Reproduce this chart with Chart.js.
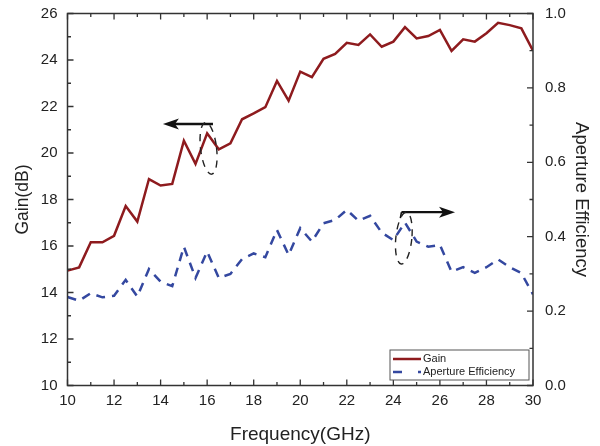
<!DOCTYPE html>
<html>
<head>
<meta charset="utf-8">
<script src="https://cdn.jsdelivr.net/npm/chart.js@4.4.1/dist/chart.umd.min.js"></script>
<style>
html,body{margin:0;padding:0;background:#fff;}
#wrap{width:600px;height:446px;position:relative;}
</style>
</head>
<body>
<div id="wrap"><canvas id="c" width="600" height="446"></canvas></div>
<script>
const frequency = [10,10.5,11,11.5,12,12.5,13,13.5,14,14.5,15,15.5,16,16.5,17,17.5,18,18.5,19,19.5,20,20.5,21,21.5,22,22.5,23,23.5,24,24.5,25,25.5,26,26.5,27,27.5,28,28.5,29,29.5,30];
const gain = [14.94,15.08,16.16,16.16,16.44,17.72,17.05,18.88,18.6,18.67,20.53,19.53,20.85,20.16,20.42,21.45,21.7,21.97,23.1,22.25,23.5,23.26,24.05,24.26,24.74,24.65,25.1,24.57,24.79,25.41,24.93,25.03,25.29,24.39,24.89,24.79,25.15,25.6,25.5,25.36,24.4];
const efficiency = [0.238,0.228,0.248,0.237,0.241,0.284,0.239,0.313,0.279,0.267,0.373,0.289,0.36,0.289,0.30,0.34,0.355,0.345,0.418,0.351,0.423,0.387,0.436,0.445,0.472,0.443,0.456,0.411,0.391,0.438,0.387,0.373,0.378,0.306,0.318,0.303,0.318,0.339,0.318,0.302,0.245];
const xTicks = [10,12,14,16,18,20,22,24,26,28,30];
const gainTicks = [10,12,14,16,18,20,22,24,26];
const effTicks = [0.0,0.2,0.4,0.6,0.8,1.0];
const seriesNames = ['Gain','Aperture Efficiency'];

const FONT = "'Liberation Sans', Arial, sans-serif";
const RED = '#8e1b1e';
const BLUE = '#3448a0';

function toPts(ys){ return frequency.map((f,i)=>({x:f,y:ys[i]})); }

const framePlugin = {
  id:'frame',
  afterDatasetsDraw(chart){
    const ctx = chart.ctx;
    const a = chart.chartArea;
    const xs = chart.scales.x, yl = chart.scales.y, yr = chart.scales.y2;
    ctx.save();
    ctx.strokeStyle = '#333';
    ctx.lineWidth = 1.5;
    ctx.strokeRect(a.left, a.top, a.right-a.left, a.bottom-a.top);
    ctx.lineWidth = 1.3;
    ctx.beginPath();
    for(let v=10; v<=30; v+=1){
      const px = xs.getPixelForValue(v);
      const len = (v%2===0)?6:3.5;
      ctx.moveTo(px, a.bottom); ctx.lineTo(px, a.bottom-len);
      ctx.moveTo(px, a.top); ctx.lineTo(px, a.top+len);
    }
    for(let v=10; v<=26; v+=1){
      const py = yl.getPixelForValue(v);
      const len = (v%2===0)?6:3.5;
      ctx.moveTo(a.left, py); ctx.lineTo(a.left+len, py);
    }
    for(let k=0; k<=10; k++){
      const py = yr.getPixelForValue(k/10);
      const len = (k%2===0)?6:3.5;
      ctx.moveTo(a.right, py); ctx.lineTo(a.right-len, py);
    }
    ctx.stroke();

    function arrow(x1,y1,x2,y2){
      ctx.strokeStyle='#111'; ctx.fillStyle='#111'; ctx.lineWidth=2.4; ctx.setLineDash([]);
      const dir = Math.sign(x2-x1);
      ctx.beginPath(); ctx.moveTo(x1,y1); ctx.lineTo(x2-dir*10,y2); ctx.stroke();
      ctx.beginPath(); ctx.moveTo(x2,y2); ctx.lineTo(x2-dir*16,y2-5.5); ctx.lineTo(x2-dir*12,y2); ctx.lineTo(x2-dir*16,y2+5.5); ctx.closePath(); ctx.fill();
    }
    function ell(cx,cy,rx,ry,rot){
      ctx.strokeStyle='#222'; ctx.lineWidth=1.4; ctx.setLineDash([7,6]);
      ctx.beginPath(); ctx.ellipse(cx,cy,rx,ry,rot,0,Math.PI*2); ctx.stroke();
      ctx.setLineDash([]);
    }
    const ay1 = yl.getPixelForValue(21.25);
    arrow(xs.getPixelForValue(16.25), ay1, xs.getPixelForValue(14.1), ay1);
    ell(xs.getPixelForValue(16.06), yl.getPixelForValue(20.2), 8, 26, -0.12);
    const ay2 = yr.getPixelForValue(0.466);
    arrow(xs.getPixelForValue(24.35), ay2, xs.getPixelForValue(26.65), ay2);
    ctx.strokeStyle='#111'; ctx.lineWidth=1.6; ctx.beginPath();
    ctx.moveTo(xs.getPixelForValue(24.35), ay2); ctx.lineTo(xs.getPixelForValue(24.3), ay2+6); ctx.stroke();
    ell(xs.getPixelForValue(24.45), yr.getPixelForValue(0.396), 8, 26, 0.1);

    const lx = 390, ly = 350, lw = 139, lh = 30;
    ctx.fillStyle='#fff'; ctx.fillRect(lx,ly,lw,lh);
    ctx.strokeStyle='#555'; ctx.lineWidth=1; ctx.strokeRect(lx,ly,lw,lh);
    ctx.lineWidth=2.5;
    ctx.strokeStyle=RED; ctx.beginPath(); ctx.moveTo(lx+3, ly+9); ctx.lineTo(lx+31, ly+9); ctx.stroke();
    ctx.strokeStyle=BLUE; ctx.setLineDash([9,16]); ctx.beginPath(); ctx.moveTo(lx+3, ly+22); ctx.lineTo(lx+31, ly+22); ctx.stroke();
    ctx.setLineDash([]);
    ctx.fillStyle='#222'; ctx.font = "11px " + FONT; ctx.textBaseline='middle'; ctx.textAlign='left';
    ctx.fillText(seriesNames[0], lx+33, ly+9);
    ctx.fillText(seriesNames[1], lx+33, ly+22);
    ctx.restore();
  }
};

function fixVert(w){ return function(s){ s.width = w; s.paddingTop = 0; s.paddingBottom = 0; }; }

new Chart(document.getElementById('c'), {
  type:'line',
  data:{
    datasets:[
      {label:seriesNames[0], data:toPts(gain), yAxisID:'y', borderColor:RED, borderWidth:2.5, pointRadius:0, tension:0, fill:false},
      {label:seriesNames[1], data:toPts(efficiency), yAxisID:'y2', borderColor:BLUE, borderWidth:2.5, borderDash:[9,7], pointRadius:0, tension:0, fill:false}
    ]
  },
  options:{
    responsive:false, animation:false,
    layout:{padding:{top:13.5,left:0,right:0,bottom:0}},
    plugins:{legend:{display:false}, tooltip:{enabled:false}},
    scales:{
      x:{type:'linear', min:10, max:30,
        afterBuildTicks(s){ s.ticks = xTicks.map(v=>({value:v})); },
        afterFit(s){ s.height = 60.5; s.paddingLeft = 0; s.paddingRight = 0; },
        grid:{display:false, drawTicks:false}, border:{display:false},
        ticks:{padding:6, color:'#222', font:{family:FONT, size:15}, maxRotation:0, autoSkip:false, callback:v=>String(v)},
        title:{display:true, text:'Frequency(GHz)', color:'#222', font:{family:FONT, size:19}, padding:{top:-3,bottom:0}}
      },
      y:{type:'linear', position:'left', min:10, max:26,
        afterBuildTicks(s){ s.ticks = gainTicks.map(v=>({value:v})); },
        afterFit: fixVert(67.5),
        grid:{display:false, drawTicks:false}, border:{display:false},
        ticks:{padding:10, color:'#222', font:{family:FONT, size:15}, callback:v=>String(v)},
        title:{display:true, text:'Gain(dB)', color:'#222', font:{family:FONT, size:17.5}, padding:{top:12.5,bottom:0}}
      },
      y2:{type:'linear', position:'right', min:0, max:1,
        afterBuildTicks(s){ s.ticks = effTicks.map(v=>({value:v})); },
        afterFit: fixVert(67),
        grid:{display:false, drawTicks:false}, border:{display:false},
        ticks:{padding:12, color:'#222', font:{family:FONT, size:15}, callback:v=>Number(v).toFixed(1)},
        title:{display:true, text:'Aperture Efficiency', color:'#222', font:{family:FONT, size:18.5}, padding:{top:8,bottom:0}}
      }
    }
  },
  plugins:[framePlugin]
});
</script>
</body>
</html>
